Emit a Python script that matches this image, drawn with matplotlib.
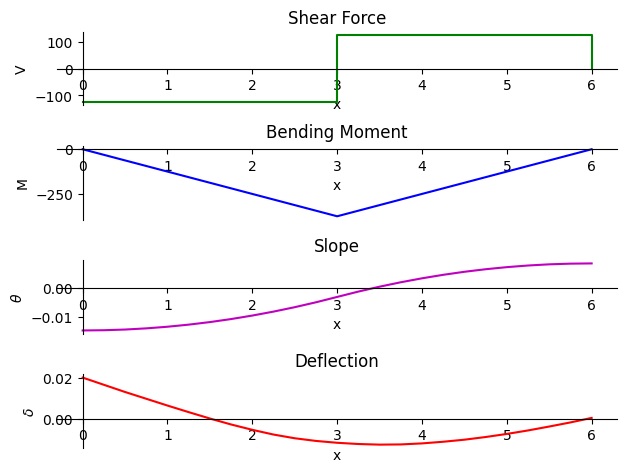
import numpy as np
import matplotlib
matplotlib.use("Agg")
import matplotlib.pyplot as plt

# ── Data ────────────────────────────────────────────────────────
x_shear = [0, 3, 3, 6, 6]
shear = [-125, -125, 125, 125, 0]

x_moment = [0, 3, 6]
moment = [0, -375, 0]

x_fine = np.arange(0, 6.01, 0.25)
slope = [-0.0147, -0.01462, -0.01438, -0.01397, -0.0134, -0.01267, -0.01178,
         -0.01072, -0.0095, -0.00812, -0.00658, -0.00487, -0.0030, -0.00113,
         0.00058, 0.00212, 0.0035, 0.00472, 0.00578, 0.00667, 0.0074,
         0.00797, 0.00838, 0.00862, 0.0087]
deflection = [0.0200, 0.0165, 0.0130, 0.0097, 0.0064, 0.0032, 0.0001,
              -0.0028, -0.0054, -0.0077, -0.0095, -0.0108, -0.0117, -0.0123,
              -0.0126, -0.0125, -0.0120, -0.0112, -0.0102, -0.0089, -0.0074,
              -0.0057, -0.0038, -0.0018, 0.0004]

panels = [
    ("Shear Force", x_shear, shear, "g", "V"),
    ("Bending Moment", x_moment, moment, "b", "M"),
    ("Slope", x_fine, slope, "m", r"$\theta$"),
    ("Deflection", x_fine, deflection, "r", r"$\delta$"),
]

# ── Plot ────────────────────────────────────────────────────────
fig, axes = plt.subplots(4, 1, figsize=(6.4, 4.8))

for ax, (title, xs, ys, color, ylabel) in zip(axes, panels):
    ax.plot(xs, ys, color=color)
    ax.set_title(title)
    ax.set_xlabel("x")
    ax.set_ylabel(ylabel)
    ax.spines["left"].set_position("zero")
    ax.spines["bottom"].set_position("zero")
    ax.spines["top"].set_visible(False)
    ax.spines["right"].set_visible(False)

plt.tight_layout()
plt.savefig("out.png", dpi=100, bbox_inches="tight")
